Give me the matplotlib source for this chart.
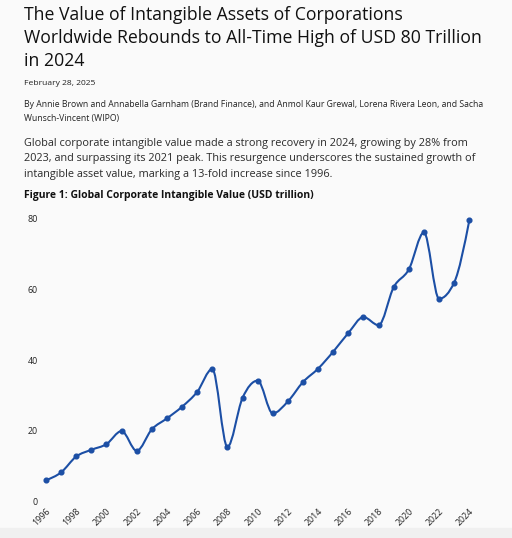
import matplotlib
matplotlib.use("Agg")
import matplotlib.pyplot as plt
from matplotlib.path import Path
from matplotlib.patches import PathPatch

plt.rcParams['font.family'] = ['Open Sans', 'Noto Sans', 'DejaVu Sans']

years = list(range(1996, 2025))
values = [6.0, 8.2, 12.7, 14.6, 16.2, 19.9, 14.3, 20.4, 23.5, 26.8,
          31.0, 37.5, 15.4, 29.3, 34.2, 24.9, 28.3, 33.8, 37.6, 42.4,
          47.7, 52.2, 49.9, 60.7, 65.7, 76.2, 57.4, 62.0, 79.6]
y_ticks = [0, 20, 40, 60, 80]
x_ticks = list(range(1996, 2025, 2))

title = ("The Value of Intangible Assets of Corporations\n"
         "Worldwide Rebounds to All-Time High of USD 80 Trillion\n"
         "in 2024")
date = "February 28, 2025"
authors = ("By Annie Brown and Annabella Garnham (Brand Finance), and Anmol Kaur Grewal, Lorena Rivera Leon, and Sacha\n"
           "Wunsch-Vincent (WIPO)")
body = ("Global corporate intangible value made a strong recovery in 2024, growing by 28% from\n"
        "2023, and surpassing its 2021 peak. This resurgence underscores the sustained growth of\n"
        "intangible asset value, marking a 13-fold increase since 1996.")
caption = "Figure 1: Global Corporate Intangible Value (USD trillion)"

line_color = '#1c4fa5'
W, H = 512, 538


def sign(v):
    return (v > 0) - (v < 0)


def monotone_path(xs, ys):
    # monotone cubic (like d3 curveMonotoneX) as bezier segments
    n = len(xs)
    t = [0.0] * n
    for i in range(1, n - 1):
        h0 = xs[i] - xs[i - 1]
        h1 = xs[i + 1] - xs[i]
        s0 = (ys[i] - ys[i - 1]) / h0
        s1 = (ys[i + 1] - ys[i]) / h1
        p = (s0 * h1 + s1 * h0) / (h0 + h1)
        t[i] = (sign(s0) + sign(s1)) * min(abs(s0), abs(s1), 0.5 * abs(p))
    h = xs[1] - xs[0]
    t[0] = (3 * (ys[1] - ys[0]) / h - t[1]) / 2
    h = xs[-1] - xs[-2]
    t[-1] = (3 * (ys[-1] - ys[-2]) / h - t[-2]) / 2
    verts = [(xs[0], ys[0])]
    codes = [Path.MOVETO]
    for i in range(1, n):
        dx = (xs[i] - xs[i - 1]) / 3
        verts += [(xs[i - 1] + dx, ys[i - 1] + dx * t[i - 1]),
                  (xs[i] - dx, ys[i] - dx * t[i]),
                  (xs[i], ys[i])]
        codes += [Path.CURVE4] * 3
    return Path(verts, codes)


fig = plt.figure(figsize=(W / 100, H / 100), dpi=100, facecolor='#fafafa')

fig.text(24 / W, 1 - 6.5 / H, title, fontsize=12.7, color='#111111',
         va='top', ha='left', linespacing=1.35)
fig.text(24 / W, 1 - 83.5 / H, date, fontsize=6.1, color='#222222',
         va='center', ha='left')
fig.text(24 / W, 1 - 100 / H, authors, fontsize=6.2, color='#222222',
         va='top', ha='left', linespacing=1.75)
fig.text(24 / W, 1 - 138 / H, body, fontsize=7.8, color='#2a2a2a',
         va='top', ha='left', linespacing=1.56)
fig.text(24 / W, 1 - 195.5 / H, caption, fontsize=7.45, color='#111111',
         va='center', ha='left', fontweight='bold')

ax = fig.add_axes([46 / W, 1 - 501.3 / H, 423.3 / W, 282.3 / H])
ax.set_facecolor('#fafafa')
ax.set_xlim(1996, 2024)
ax.set_ylim(0, 80)
ax.add_patch(PathPatch(monotone_path(years, values), fill=False,
                       edgecolor=line_color, lw=1.5, clip_on=False))
ax.plot(years, values, 'o', color=line_color, ms=3.4, clip_on=False)

ax.set_yticks(y_ticks)
ax.set_xticks(x_ticks)
ax.tick_params(length=0, labelsize=6.4, colors='#222222')
ax.tick_params(axis='y', pad=6)
ax.tick_params(axis='x', pad=4)
for lab in ax.get_xticklabels():
    lab.set_rotation(45)
    lab.set_ha('right')
    lab.set_rotation_mode('anchor')
for s in ax.spines.values():
    s.set_visible(False)

fig.patches.append(plt.Rectangle((0, 0), 1, 10 / H, transform=fig.transFigure,
                                 color='#f0f0f0', zorder=-1))

fig.savefig('out.png', dpi=100, facecolor=fig.get_facecolor())
